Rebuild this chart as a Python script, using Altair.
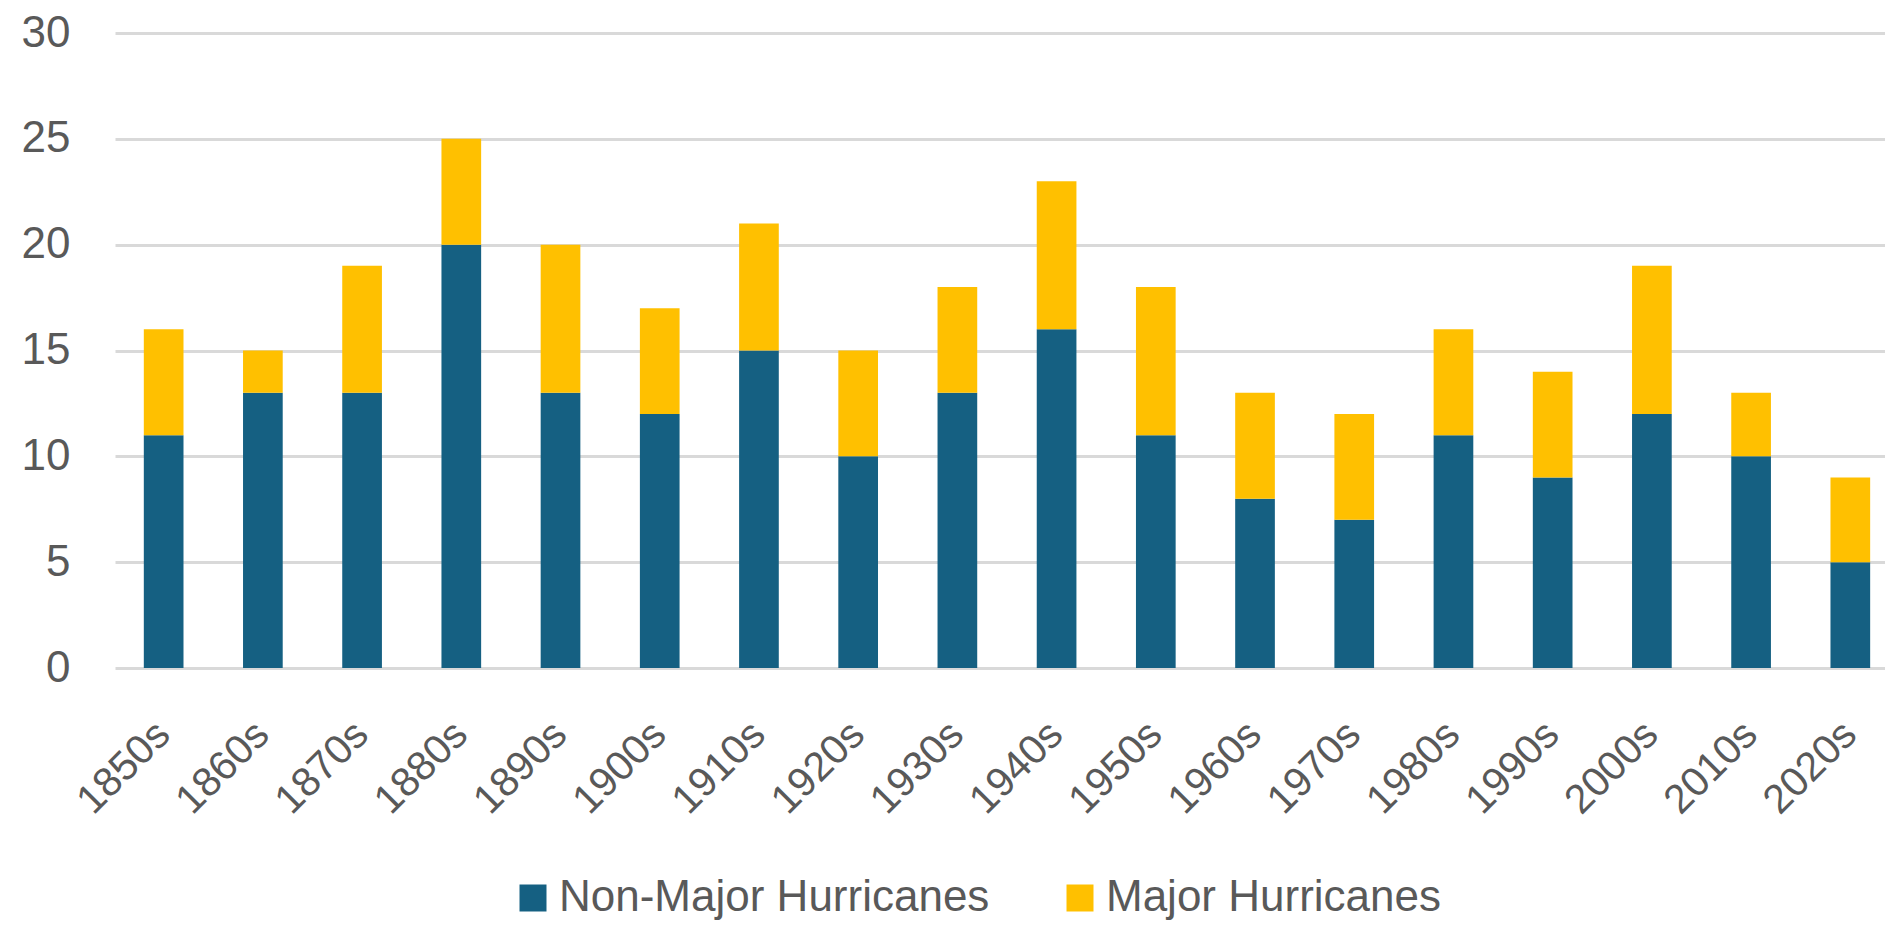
import altair as alt
import pandas as pd

decades = ["1850s", "1860s", "1870s", "1880s", "1890s", "1900s", "1910s", "1920s", "1930s",
           "1940s", "1950s", "1960s", "1970s", "1980s", "1990s", "2000s", "2010s", "2020s"]
non_major = [11, 13, 13, 20, 13, 12, 15, 10, 13, 16, 11, 8, 7, 11, 9, 12, 10, 5]
major = [5, 2, 6, 5, 7, 5, 6, 5, 5, 7, 7, 5, 5, 5, 5, 7, 3, 4]
series = ["Non-Major Hurricanes", "Major Hurricanes"]
colors = ["#156082", "#FFC000"]

rows = []
for d, a, b in zip(decades, non_major, major):
    rows.append({"decade": d, "series": series[0], "value": a, "ord": 0})
    rows.append({"decade": d, "series": series[1], "value": b, "ord": 1})
df = pd.DataFrame(rows)

FONT = "Liberation Sans"
TXT = "#595959"

chart = alt.Chart(df).mark_bar().encode(
    x=alt.X("decade:N", sort=decades, title=None,
            scale=alt.Scale(paddingInner=0.6, paddingOuter=0.22, align=0.66),
            axis=alt.Axis(labelAngle=315, labelAlign="right", labelBaseline="middle",
                          labelFontSize=41, labelColor=TXT, labelFont=FONT,
                          labelPadding=60, ticks=False, tickSize=0, domain=False,
                          grid=False)),
    y=alt.Y("value:Q", title=None, stack="zero",
            scale=alt.Scale(domain=[0, 30], nice=False),
            axis=alt.Axis(values=[0, 5, 10, 15, 20, 25, 30], labelFontSize=44,
                          labelColor=TXT, labelFont=FONT, labelPadding=45,
                          ticks=False, tickSize=0, domain=False, gridColor="#D9D9D9",
                          gridWidth=3)),
    color=alt.Color("series:N", scale=alt.Scale(domain=series, range=colors),
                    legend=alt.Legend(title=None, orient="none", legendX=396, legendY=843,
                                      direction="horizontal", symbolType="square",
                                      symbolSize=729, symbolStrokeWidth=0,
                                      labelFontSize=44, labelFont=FONT, labelColor=TXT,
                                      labelOffset=4, columnPadding=68, padding=0,
                                      labelLimit=600)),
    order=alt.Order("ord:Q"),
).properties(
    width=1770, height=635,
    autosize=alt.AutoSizeParams(type="none"),
    padding={"left": 107, "top": 25, "right": 0, "bottom": 257},
).configure(background="white").configure_view(stroke=None, strokeWidth=0)

chart.save("out.html", embed_options={"renderer": "svg", "actions": False})
